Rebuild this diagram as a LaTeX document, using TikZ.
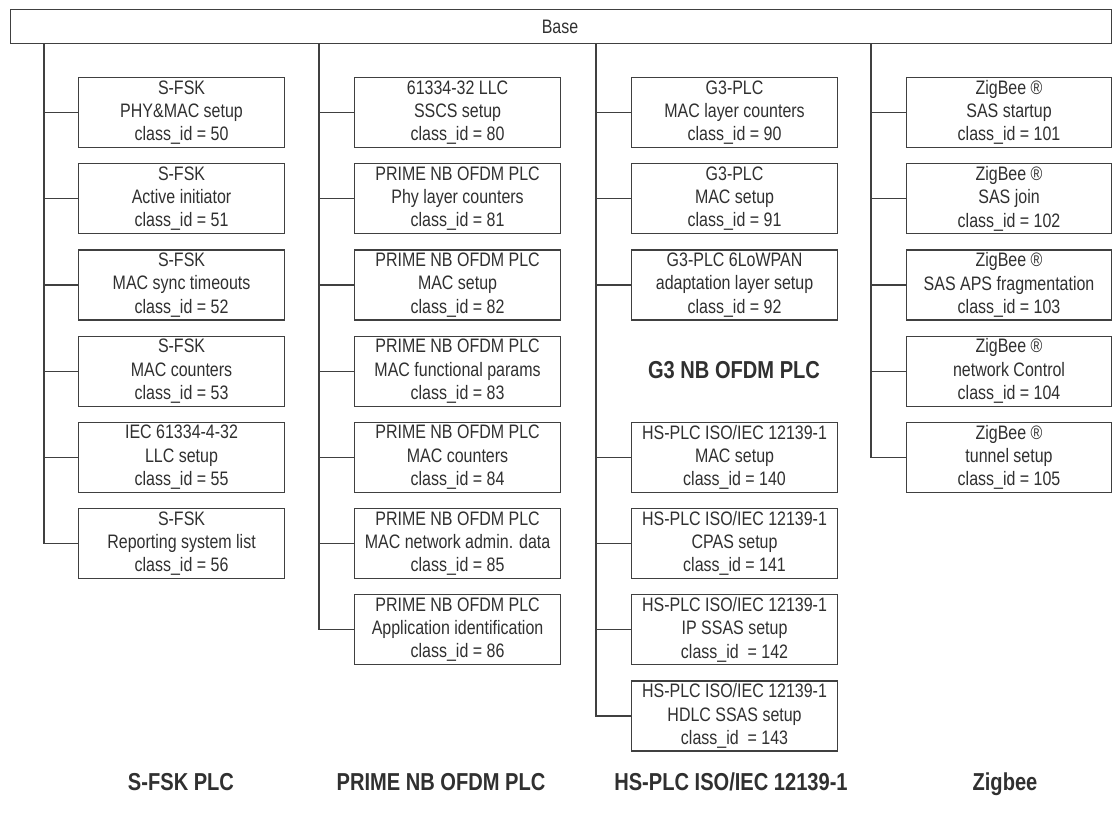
\documentclass[tikz,border=0pt]{standalone}
\usepackage{fontspec}
\setmainfont{Liberation Sans}[FakeStretch=0.82]
\definecolor{ln}{HTML}{404040}
\definecolor{tx}{HTML}{303030}
\begin{document}
\begin{tikzpicture}[x=1pt,y=-1pt,
  cls/.style={draw=ln, line width=1.1pt, text=tx, minimum width=206pt, minimum height=70pt,
    inner sep=0pt, align=center, anchor=north west, font=\fontsize{19.5}{23.3}\selectfont},
  basebox/.style={draw=ln, line width=1.1pt, text=tx, minimum width=1101pt, minimum height=34pt,
    inner sep=0pt, anchor=north west},
  grp/.style={text=tx, inner sep=0pt, anchor=base, font=\fontsize{24.5}{28}\selectfont\bfseries},
  conn/.style={draw=ln, line width=1.1pt}]
\useasboundingbox (0,0) rectangle (1112,815);
\fill[white] (0,0) rectangle (1112,815);

\node[basebox] (base) at (10,9) {};
\node[text=tx, font=\fontsize{19.5}{23}\selectfont, inner sep=0pt, anchor=base] (basetxt) at (560,33) {Base};

\coordinate (t1) at (44,0);
\coordinate (t2) at (319,0);
\coordinate (t3) at (596,0);
\coordinate (t4) at (871,0);

% column 1
\node[cls] (b50) at (78,77) {S-FSK\\PHY\&MAC setup\\class\_id = 50};
\node[cls] (b51) at (78,163.2) {S-FSK\\Active initiator\\class\_id = 51};
\node[cls] (b52) at (78,249.4) {S-FSK\\MAC sync timeouts\\class\_id = 52};
\node[cls] (b53) at (78,335.6) {S-FSK\\MAC counters\\class\_id = 53};
\node[cls] (b55) at (78,421.8) {IEC 61334-4-32\\LLC setup\\class\_id = 55};
\node[cls] (b56) at (78,508) {S-FSK\\Reporting system list\\class\_id = 56};

% column 2
\node[cls] (b80) at (354,77) {61334-32 LLC\\SSCS setup\\class\_id = 80};
\node[cls] (b81) at (354,163.2) {PRIME NB OFDM PLC\\Phy layer counters\\class\_id = 81};
\node[cls] (b82) at (354,249.4) {PRIME NB OFDM PLC\\MAC setup\\class\_id = 82};
\node[cls] (b83) at (354,335.6) {PRIME NB OFDM PLC\\MAC functional params\\class\_id = 83};
\node[cls] (b84) at (354,421.8) {PRIME NB OFDM PLC\\MAC counters\\class\_id = 84};
\node[cls] (b85) at (354,508) {PRIME NB OFDM PLC\\MAC network admin. data\\class\_id = 85};
\node[cls] (b86) at (354,594.2) {PRIME NB OFDM PLC\\Application identification\\class\_id = 86};

% column 3
\node[cls] (b90) at (631,77) {G3-PLC\\MAC layer counters\\class\_id = 90};
\node[cls] (b91) at (631,163.2) {G3-PLC\\MAC setup\\class\_id = 91};
\node[cls] (b92) at (631,249.4) {G3-PLC 6LoWPAN\\adaptation layer setup\\class\_id = 92};
\node[grp] (g3lbl) at (734,378) {G3 NB OFDM PLC};
\node[cls] (b140) at (631,421.8) {HS-PLC ISO/IEC 12139-1\\MAC setup\\class\_id = 140};
\node[cls] (b141) at (631,508) {HS-PLC ISO/IEC 12139-1\\CPAS setup\\class\_id = 141};
\node[cls] (b142) at (631,594.2) {HS-PLC ISO/IEC 12139-1\\IP SSAS setup\\class\_id\ \ = 142};
\node[cls] (b143) at (631,680.4) {HS-PLC ISO/IEC 12139-1\\HDLC SSAS setup\\class\_id\ \ = 143};

% column 4
\node[cls, minimum width=205pt] (b101) at (906,77) {ZigBee ®\\SAS startup\\class\_id = 101};
\node[cls, minimum width=205pt] (b102) at (906,163.2) {ZigBee ®\\SAS join\\class\_id = 102};
\node[cls, minimum width=205pt] (b103) at (906,249.4) {ZigBee ®\\SAS APS fragmentation\\class\_id = 103};
\node[cls, minimum width=205pt] (b104) at (906,335.6) {ZigBee ®\\network Control\\class\_id = 104};
\node[cls, minimum width=205pt] (b105) at (906,421.8) {ZigBee ®\\tunnel setup\\class\_id = 105};

% bottom labels
\node[grp] (l1) at (181,790) {S-FSK PLC};
\node[grp] (l2) at (441,790) {PRIME NB OFDM PLC};
\node[grp] (l3) at (731,790) {HS-PLC ISO/IEC 12139-1};
\node[grp] (l4) at (1005,790) {Zigbee};

% trunks
\draw[conn] (t1 |- base.south) |- (b56.west);
\draw[conn] (t2 |- base.south) |- (b86.west);
\draw[conn] (t3 |- base.south) |- (b143.west);
\draw[conn] (t4 |- base.south) |- (b105.west);

% branches
\foreach \b in {b50,b51,b52,b53,b55} \draw[conn] (t1 |- \b.west) -- (\b.west);
\foreach \b in {b80,b81,b82,b83,b84,b85} \draw[conn] (t2 |- \b.west) -- (\b.west);
\foreach \b in {b90,b91,b92,b140,b141,b142} \draw[conn] (t3 |- \b.west) -- (\b.west);
\foreach \b in {b101,b102,b103,b104} \draw[conn] (t4 |- \b.west) -- (\b.west);
\end{tikzpicture}
\end{document}
